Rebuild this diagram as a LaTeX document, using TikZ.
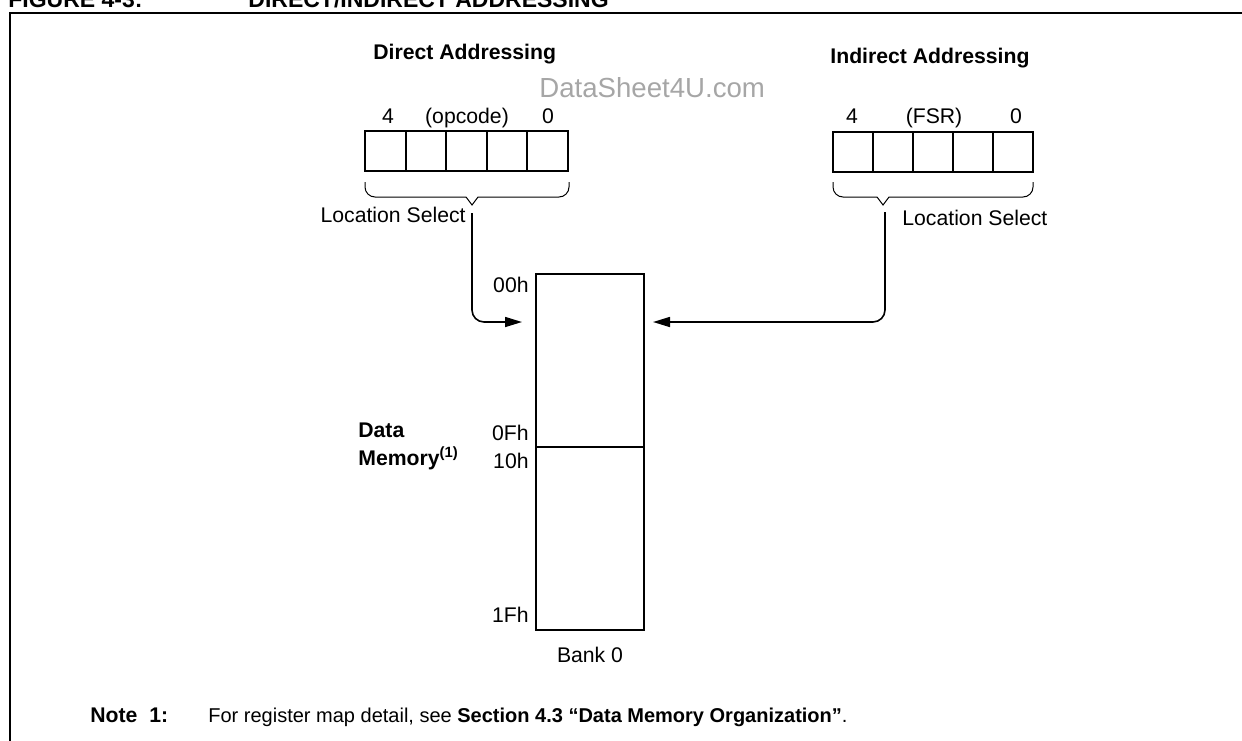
\documentclass[tikz,border=0pt]{standalone}
\usepackage{fontspec}
\setmainfont{Liberation Sans}
\usetikzlibrary{arrows.meta}

\begin{document}
\begin{tikzpicture}[x=0.5pt,y=-0.5pt,
  every node/.style={inner sep=0pt,font=\fontsize{10.6}{12}\selectfont},
  head/.style={font=\fontsize{10.6}{12}\selectfont\bfseries},
  bitbox/.style={draw,line width=1pt,minimum width=20.3pt,minimum height=20pt},
  brace/.style={line width=0.5pt},
  link/.style={line width=0.8pt,rounded corners=6pt,-{Triangle[length=8.5pt,width=5pt]}}]
  \useasboundingbox (0,0) rectangle (1242,740);
  \clip (0,0) rectangle (1242,740);
  % title and frame
  \node[head,anchor=base west,font=\fontsize{11.5}{13}\selectfont\bfseries] (fig) at (8,7.5) {FIGURE 4-3:};
  \node[head,anchor=base west,font=\fontsize{11.5}{13}\selectfont\bfseries] (title) at (248,7.5) {DIRECT/INDIRECT ADDRESSING};
  \draw[line width=1pt] (10,780) -- (10,13) -- (1280,13);
  % headings
  \node[head,anchor=base west] (dhead) at (373,59) {Direct Addressing};
  \node[head,anchor=base west] (ihead) at (830,63) {Indirect Addressing};
  \node[anchor=base west,text=black!35,font=\fontsize{13.8}{15}\selectfont] (wm) at (539,97) {DataSheet4U.com};
  % registers
  \foreach \i in {0,...,4} {
    \node[bitbox] (d\i) at (385.3+40.6*\i,151) {};
    \node[bitbox,minimum width=20pt] (f\i) at (853+40*\i,152) {};
  }
  \node[anchor=base] (dhi) at (388,123) {4};
  \node[anchor=base] (dname) at (467,123) {(opcode)};
  \node[anchor=base] (dlo) at (548,123) {0};
  \node[anchor=base] (fhi) at (852,123) {4};
  \node[anchor=base] (fname) at (934,123) {(FSR)};
  \node[anchor=base] (flo) at (1016,123) {0};
  % braces
  \draw[brace] (365,182) [rounded corners=5pt] -- (365,197) -- (420,197) [sharp corners]
    -- (466,197) -- (472,205) -- (478,197) -- (520,197) [rounded corners=5pt] -- (569,197) -- (569,182);
  \draw[brace] (833,182) [rounded corners=5pt] -- (833,197) -- (855,197) [sharp corners]
    -- (877,197) -- (883,205) -- (889,197) -- (980,197) [rounded corners=5pt] -- (1033,197) -- (1033,182);
  \node[anchor=base east] (dsellbl) at (466,222) {Location Select};
  \node[anchor=base west] (isellbl) at (902,225) {Location Select};
  % data memory
  \node[draw,line width=1pt,anchor=north west,minimum width=54pt,minimum height=178pt] (mem) at (535,273) {};
  \coordinate (split) at (535,447);
  \draw[line width=0.7pt] (split) -- (split -| mem.east);
  \node[anchor=base east] (a00) at (529,292) {00h};
  \node[anchor=base east] (a0f) at (529,440) {0Fh};
  \node[anchor=base east] (a10) at (529,468) {10h};
  \node[anchor=base east] (a1f) at (529,622) {1Fh};
  \node[head,anchor=base west] (dm1) at (358,437) {Data};
  \node[head,anchor=base west] (dm2) at (358,465) {Memory\textsuperscript{(1)}};
  \node[anchor=base] (bank) at (590,662) {Bank 0};
  % location select paths
  \coordinate (dsel) at (472,213);
  \coordinate (isel) at (885,212);
  \coordinate (dentry) at (535,322);
  \coordinate (ientry) at (643,322);
  \draw[link,shorten >=6.5pt] (dsel) |- (dentry);
  \draw[link,shorten >=5pt] (isel) |- (ientry);
  % note
  \node[head,anchor=base west] (note) at (90,722) {Note\ \ 1:};
  \node[anchor=base west,font=\fontsize{10}{12}\selectfont] (notetxt) at (208,722) {For register map detail, see \textbf{Section 4.3 “Data Memory Organization”}.};
\end{tikzpicture}
\end{document}
